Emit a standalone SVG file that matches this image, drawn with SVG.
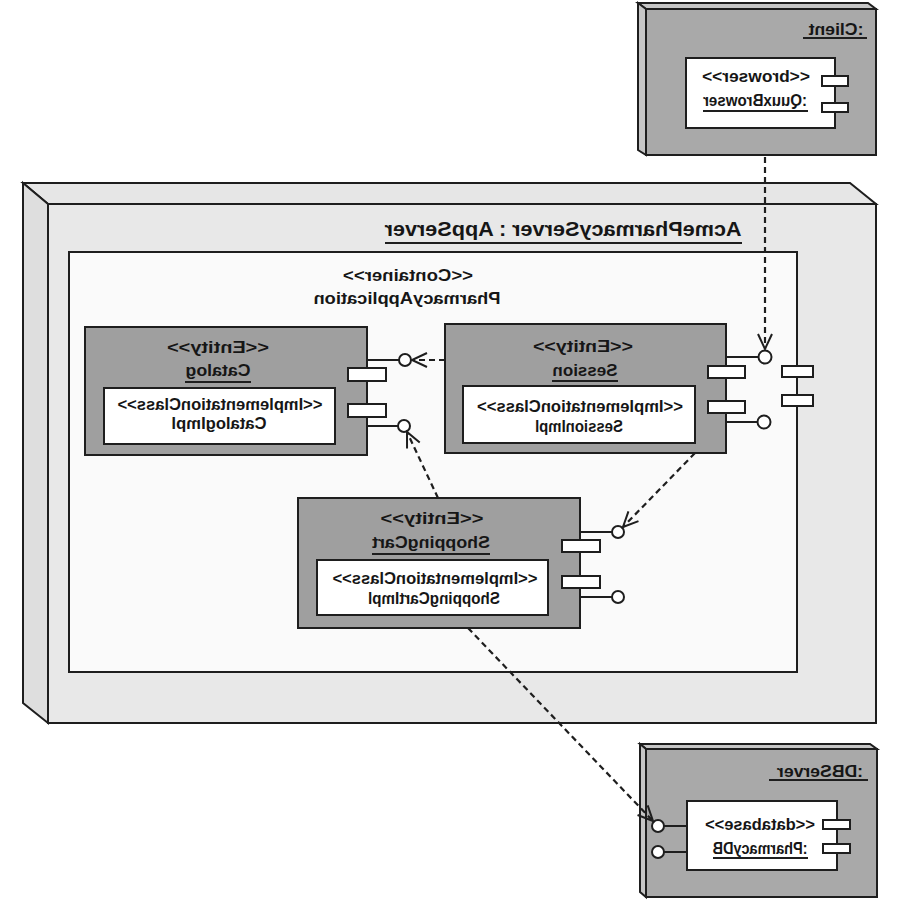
<svg xmlns="http://www.w3.org/2000/svg" width="900" height="900" viewBox="0 0 900 900">
  <style>
    .edge { stroke: #1e1e1e; stroke-width: 2; stroke-linejoin: miter; }
    .front { fill: #e8e8e8; }
    .side { fill: #dedede; }
    .top { fill: #e6e6e6; }
    .dfront { fill: #a9a9a9; }
    .dside { fill: #c6c6c6; }
    .comp { fill: #9f9f9f; }
    .white { fill: #ffffff; }
    .port { fill: #ffffff; stroke: #1e1e1e; stroke-width: 2; }
    .lol { fill: #ffffff; stroke: #1e1e1e; stroke-width: 2; }
    .stem { stroke: #1e1e1e; stroke-width: 2; fill: none; }
    .dep { stroke: #1e1e1e; stroke-width: 2.2; stroke-dasharray: 6 4; fill: none; marker-end: url(#open); }
    .ul { stroke: #1e1e1e; stroke-width: 2; }
    text { font-family: "Liberation Sans Narrow", "Liberation Sans", Arial, sans-serif; font-size: 17px; font-weight: bold; fill: #161616; text-anchor: middle; }
    .ttl { font-size: 20px; }
    .impl { font-size: 16px; }
  </style>
  <defs>
    <marker id="open" markerUnits="userSpaceOnUse" markerWidth="20" markerHeight="20" refX="16" refY="8" viewBox="0 0 20 16" orient="auto">
      <path d="M1,1 L16,8 L1,15" fill="none" stroke="#1e1e1e" stroke-width="2"/>
    </marker>
  </defs>
  <rect width="900" height="900" fill="#ffffff"/>

  <!-- application server node -->
  <g id="appserver">
    <polygon class="top edge" points="23,183 850,183 876,204 48,204"/>
    <polygon class="side edge" points="23,183 48,204 48,723 23,703"/>
    <rect class="front edge" x="48" y="204" width="828" height="519"/>
    <text class="ttl" x="-563" y="236" transform="scale(-1,1)" textLength="357" lengthAdjust="spacingAndGlyphs">AcmePharmacyServer : AppServer</text>
    <line class="ul" x1="385" y1="243" x2="742" y2="243"/>
  </g>

  <!-- container -->
  <g id="container">
    <rect class="edge" x="69" y="252" width="728" height="420" fill="#fafafa"/>
    <text x="-408" y="281" transform="scale(-1,1)" textLength="130" lengthAdjust="spacingAndGlyphs">&lt;&lt;Container&gt;&gt;</text>
    <text x="-407" y="304" transform="scale(-1,1)" textLength="187" lengthAdjust="spacingAndGlyphs">PharmacyApplication</text>
    <rect class="port" x="782" y="366" width="31" height="11"/>
    <rect class="port" x="782" y="395" width="31" height="11"/>
  </g>

  <!-- Catalog -->
  <g id="catalog">
    <line class="stem" x1="367" y1="360" x2="399" y2="360"/>
    <line class="stem" x1="367" y1="426" x2="398" y2="426"/>
    <circle class="lol" cx="405" cy="360" r="6"/>
    <circle class="lol" cx="404" cy="426" r="6"/>
    <rect class="comp edge" x="85" y="327" width="282" height="128"/>
    <rect class="white edge" x="104" y="388" width="231" height="56"/>
    <text x="-218" y="353" transform="scale(-1,1)" textLength="102" lengthAdjust="spacingAndGlyphs">&lt;&lt;Entity&gt;&gt;</text>
    <text x="-218" y="376" transform="scale(-1,1)" textLength="65" lengthAdjust="spacingAndGlyphs">Catalog</text>
    <line class="ul" x1="185" y1="382" x2="251" y2="382"/>
    <text class="impl" x="-220" y="410" transform="scale(-1,1)" textLength="205" lengthAdjust="spacingAndGlyphs">&lt;&lt;ImplementationClass&gt;&gt;</text>
    <text class="impl" x="-219" y="429" transform="scale(-1,1)" textLength="95" lengthAdjust="spacingAndGlyphs">CatalogImpl</text>
    <rect class="port" x="348" y="368" width="38" height="13"/>
    <rect class="port" x="348" y="404" width="38" height="13"/>
  </g>

  <!-- Session -->
  <g id="session">
    <line class="stem" x1="726" y1="357" x2="759" y2="357"/>
    <line class="stem" x1="726" y1="422" x2="758" y2="422"/>
    <circle class="lol" cx="765" cy="357" r="6.5"/>
    <circle class="lol" cx="764" cy="422" r="6.5"/>
    <rect class="comp edge" x="445" y="324" width="281" height="129"/>
    <rect class="white edge" x="463" y="386" width="232" height="57"/>
    <text x="-583" y="352" transform="scale(-1,1)" textLength="100" lengthAdjust="spacingAndGlyphs">&lt;&lt;Entity&gt;&gt;</text>
    <text x="-585" y="376" transform="scale(-1,1)" textLength="65" lengthAdjust="spacingAndGlyphs">Session</text>
    <line class="ul" x1="552" y1="381" x2="618" y2="381"/>
    <text class="impl" x="-580" y="412" transform="scale(-1,1)" textLength="206" lengthAdjust="spacingAndGlyphs">&lt;&lt;ImplementationClass&gt;&gt;</text>
    <text class="impl" x="-579" y="432" transform="scale(-1,1)" textLength="88" lengthAdjust="spacingAndGlyphs">SessionImpl</text>
    <rect class="port" x="708" y="366" width="37" height="12"/>
    <rect class="port" x="708" y="401" width="37" height="12"/>
  </g>

  <!-- ShoppingCart -->
  <g id="shoppingcart">
    <line class="stem" x1="580" y1="532" x2="612" y2="532"/>
    <line class="stem" x1="580" y1="597" x2="612" y2="597"/>
    <circle class="lol" cx="618" cy="532" r="6"/>
    <circle class="lol" cx="618" cy="597" r="6"/>
    <rect class="comp edge" x="298" y="498" width="282" height="130"/>
    <rect class="white edge" x="317" y="560" width="231" height="55"/>
    <text x="-432" y="524" transform="scale(-1,1)" textLength="103" lengthAdjust="spacingAndGlyphs">&lt;&lt;Entity&gt;&gt;</text>
    <text x="-431" y="548" transform="scale(-1,1)" textLength="118" lengthAdjust="spacingAndGlyphs">ShoppingCart</text>
    <line class="ul" x1="372" y1="554" x2="490" y2="554"/>
    <text class="impl" x="-435" y="584" transform="scale(-1,1)" textLength="205" lengthAdjust="spacingAndGlyphs">&lt;&lt;ImplementationClass&gt;&gt;</text>
    <text class="impl" x="-434" y="604" transform="scale(-1,1)" textLength="132" lengthAdjust="spacingAndGlyphs">ShoppingCartImpl</text>
    <rect class="port" x="562" y="540" width="38" height="12"/>
    <rect class="port" x="562" y="576" width="38" height="12"/>
  </g>

  <!-- client node -->
  <g id="client">
    <polygon class="dside edge" points="638,3 868,3 876,9 646,9"/>
    <polygon class="dside edge" points="638,3 646,9 646,155 638,150"/>
    <rect class="dfront edge" x="646" y="9" width="230" height="146"/>
    <text x="-836" y="35" transform="scale(-1,1)" textLength="55" lengthAdjust="spacingAndGlyphs">:Client</text>
    <line class="ul" x1="803" y1="38" x2="867" y2="38"/>
    <rect class="white edge" x="686" y="58" width="149" height="70"/>
    <text x="-756" y="82" transform="scale(-1,1)" textLength="108" lengthAdjust="spacingAndGlyphs">&lt;&lt;browser&gt;&gt;</text>
    <text x="-755" y="106" transform="scale(-1,1)" textLength="104" lengthAdjust="spacingAndGlyphs">:QuuxBrowser</text>
    <line class="ul" x1="703" y1="111" x2="808" y2="111"/>
    <rect class="port" x="822" y="76" width="26" height="10"/>
    <rect class="port" x="822" y="103" width="26" height="9"/>
  </g>

  <!-- database server node -->
  <g id="dbserver">
    <polygon class="dside edge" points="640,744 870,744 877,749 646,749"/>
    <polygon class="dside edge" points="640,744 646,749 646,897 640,892"/>
    <rect class="dfront edge" x="646" y="749" width="231" height="148"/>
    <text x="-820" y="777" transform="scale(-1,1)" textLength="86" lengthAdjust="spacingAndGlyphs">:DBServer</text>
    <line class="ul" x1="769" y1="780" x2="868" y2="780"/>
    <line class="stem" x1="664" y1="826" x2="687" y2="826"/>
    <line class="stem" x1="664" y1="852" x2="687" y2="852"/>
    <circle class="lol" cx="658" cy="826" r="6"/>
    <circle class="lol" cx="658" cy="852" r="6"/>
    <rect class="white edge" x="687" y="801" width="150" height="69"/>
    <text x="-760" y="830" transform="scale(-1,1)" textLength="110" lengthAdjust="spacingAndGlyphs">&lt;&lt;database&gt;&gt;</text>
    <text x="-760" y="854" transform="scale(-1,1)" textLength="95" lengthAdjust="spacingAndGlyphs">:PharmacyDB</text>
    <line class="ul" x1="713" y1="858" x2="808" y2="858"/>
    <rect class="port" x="823" y="820" width="27" height="9"/>
    <rect class="port" x="823" y="844" width="27" height="9"/>
  </g>

  <!-- dependencies -->
  <g id="connectors">
    <path class="dep" d="M765,157 L765,349"/>
    <path class="dep" d="M445,360 L412,360"/>
    <path class="dep" d="M695,453 L623,527"/>
    <path class="dep" d="M438,498 L407,432"/>
    <path class="dep" d="M468,628 L653,821"/>
  </g>
</svg>
